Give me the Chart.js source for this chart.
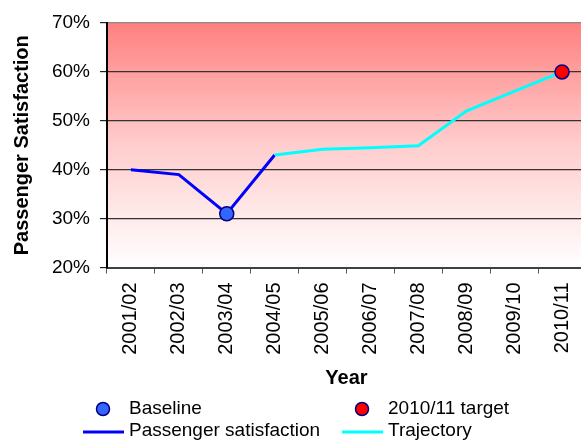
<!DOCTYPE html>
<html>
<head>
<meta charset="utf-8">
<script src="https://cdn.jsdelivr.net/npm/chart.js@4/dist/chart.umd.min.js"></script>
<style>
  html, body { margin: 0; padding: 0; background: #fff; overflow: hidden; }
  canvas { display: block; }
</style>
</head>
<body>
<canvas id="c" width="600" height="441"></canvas>
<script>
// Financial years on the x axis
const years = ['2001/02', '2002/03', '2003/04', '2004/05', '2005/06',
               '2006/07', '2007/08', '2008/09', '2009/10', '2010/11'];
// Measured passenger satisfaction (%)
const satisfaction = [40, 39, 31, 43, null, null, null, null, null, null];
// Planned trajectory towards the 2010/11 target (%)
const trajectory = [null, null, null, 43, 44.2, 44.5, 44.9, 52, 56, 60];
// Single highlighted points
const baseline = [null, null, 31, null, null, null, null, null, null, null];
const target = [null, null, null, null, null, null, null, null, null, 60];
// Y axis tick values (%)
const yTicks = [20, 30, 40, 50, 60, 70];

const FONT = "'Liberation Sans', Arial, Helvetica, sans-serif";
Chart.defaults.font.family = FONT;
Chart.defaults.color = '#000';

// Red-to-white wash behind the plot area
const plotBackground = {
  id: 'plotBackground',
  beforeDraw(chart) {
    const { ctx, chartArea: a } = chart;
    const g = ctx.createLinearGradient(0, a.top, 0, a.bottom);
    g.addColorStop(0, 'rgb(255,128,128)');
    g.addColorStop(0.5, 'rgb(255,205,205)');
    g.addColorStop(1, 'rgb(255,255,255)');
    ctx.save();
    ctx.fillStyle = g;
    ctx.fillRect(a.left, a.top, a.right - a.left, a.bottom - a.top);
    ctx.restore();
  }
};

// Two-column legend under the axis title
const gridLegend = {
  id: 'gridLegend',
  afterDraw(chart) {
    const { ctx } = chart;
    const colX = [103, 362];
    const rowY = [409, 431];
    const order = [2, 3, 0, 1]; // Baseline, target, satisfaction, trajectory
    ctx.save();
    ctx.font = '19px ' + FONT;
    ctx.textBaseline = 'middle';
    ctx.textAlign = 'left';
    order.forEach((dsIndex, k) => {
      const ds = chart.data.datasets[dsIndex];
      const cx = colX[k % 2];
      const cy = rowY[Math.floor(k / 2)];
      if (ds.showLine === false) {
        ctx.beginPath();
        ctx.arc(cx, cy, 6.5, 0, Math.PI * 2);
        ctx.fillStyle = ds.pointBackgroundColor;
        ctx.fill();
        ctx.lineWidth = 1.5;
        ctx.strokeStyle = ds.pointBorderColor;
        ctx.stroke();
      } else {
        ctx.beginPath();
        ctx.moveTo(cx - 20, cy + 1);
        ctx.lineTo(cx + 21, cy + 1);
        ctx.lineWidth = 3;
        ctx.strokeStyle = ds.borderColor;
        ctx.stroke();
      }
      ctx.fillStyle = '#000';
      ctx.fillText(ds.label, cx + 26, cy);
    });
    ctx.restore();
  }
};

new Chart(document.getElementById('c'), {
  type: 'line',
  data: {
    labels: years,
    datasets: [
      {
        label: 'Passenger satisfaction',
        data: satisfaction,
        borderColor: '#0000FF',
        borderWidth: 3,
        pointRadius: 0,
        tension: 0,
        spanGaps: false,
        order: 2
      },
      {
        label: 'Trajectory',
        data: trajectory,
        borderColor: '#00FFFF',
        borderWidth: 3,
        pointRadius: 0,
        tension: 0,
        order: 1
      },
      {
        label: 'Baseline',
        data: baseline,
        showLine: false,
        pointRadius: 7,
        pointBackgroundColor: '#3366FF',
        pointBorderColor: '#000080',
        pointBorderWidth: 1.5,
        order: 0
      },
      {
        label: '2010/11 target',
        data: target,
        showLine: false,
        pointRadius: 7,
        pointBackgroundColor: '#FF0000',
        pointBorderColor: '#000080',
        pointBorderWidth: 1.5,
        order: 0
      }
    ]
  },
  options: {
    responsive: false,
    animation: false,
    events: [],
    layout: { padding: { top: 23, right: 14, bottom: 50, left: 0 } },
    plugins: {
      legend: { display: false },
      tooltip: { enabled: false }
    },
    scales: {
      x: {
        type: 'category',
        offset: true,
        grid: {
          offset: true,
          drawOnChartArea: false,
          drawTicks: true,
          tickLength: 6,
          tickColor: '#555'
        },
        border: { color: '#404040', width: 2 },
        ticks: {
          autoSkip: false,
          minRotation: 90,
          maxRotation: 90,
          padding: 9,
          font: { size: 20 },
          color: '#000'
        },
        title: {
          display: true,
          text: 'Year',
          font: { size: 20, weight: 'bold' },
          padding: { top: 0, bottom: 1 },
          color: '#000'
        },
        afterFit(scale) { scale.height = 123.5; }
      },
      y: {
        min: 20,
        max: 70,
        afterBuildTicks(scale) { scale.ticks = yTicks.map(v => ({ value: v })); },
        grid: {
          color: (c) => c.tick && c.tick.value === 70 ? '#8a8a8a' : '#333',
          lineWidth: 1.2,
          tickLength: 7,
          tickColor: '#222'
        },
        border: { color: '#000', width: 2 },
        ticks: {
          callback: (v) => v + '%',
          padding: 10,
          font: { size: 19 },
          color: '#000'
        },
        title: {
          display: true,
          text: 'Passenger Satisfaction',
          font: { size: 20, weight: 'bold' },
          padding: { top: 10, bottom: 0 },
          color: '#000'
        },
        afterFit(scale) { scale.width = 107; }
      }
    }
  },
  plugins: [plotBackground, gridLegend]
});
</script>
</body>
</html>
